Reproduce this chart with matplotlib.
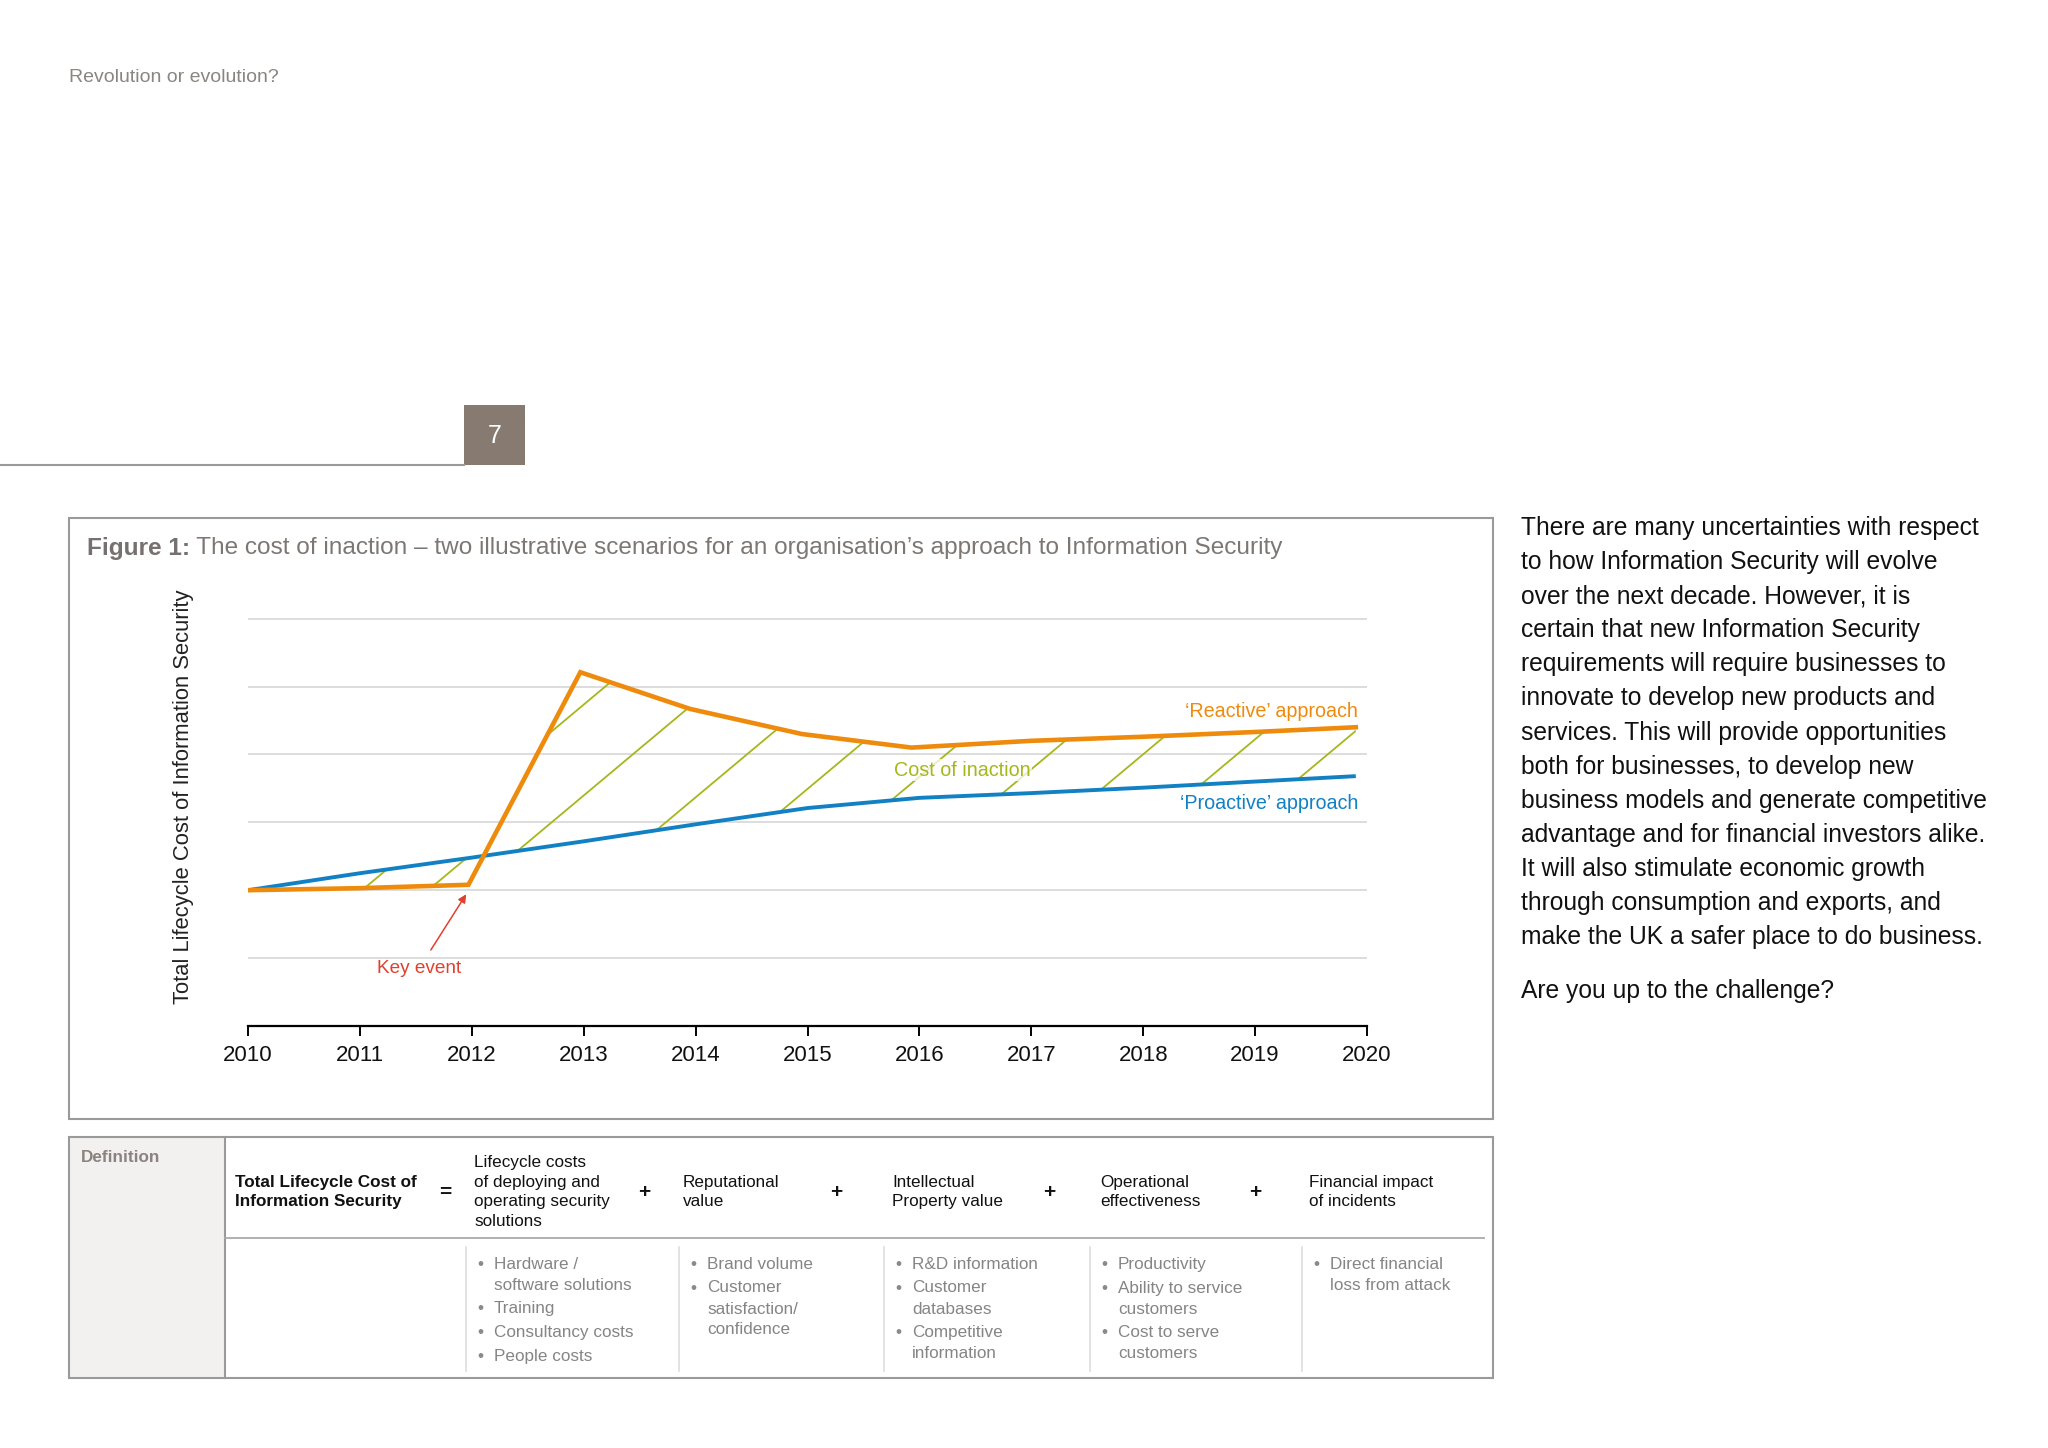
import numpy as np
import matplotlib
matplotlib.use("Agg")
import matplotlib.pyplot as plt
from matplotlib.patches import Rectangle

plt.rcParams['font.family'] = ['Liberation Sans', 'DejaVu Sans']

# --- data ---
years = [2010, 2011, 2012, 2013, 2014, 2015, 2016, 2017, 2018, 2019, 2020]
tick_labels = [str(y) for y in years]

proactive_x = [2010, 2011, 2012, 2013, 2014, 2015, 2016, 2017, 2018, 2019, 2019.9]
proactive_y = [2.0, 2.25, 2.48, 2.72, 2.97, 3.21, 3.36, 3.43, 3.51, 3.60, 3.68]

reactive_x = [2010, 2011, 2011.97, 2012.97, 2013.95, 2014.95, 2015.93, 2017, 2018, 2019, 2019.9]
reactive_y = [2.0, 2.03, 2.08, 5.21, 4.67, 4.30, 4.10, 4.20, 4.26, 4.33, 4.40]

# hatch lines: x where each diagonal would cross zero, and the last year it runs to
hatch_c = [2009.57, 2010.16, 2010.54, 2011.56, 2012.47, 2013.34, 2014.26, 2015.10, 2015.94, 2016.75]
hatch_end = [2020, 2012.1, 2020, 2020, 2020, 2020, 2020, 2020, 2020, 2020]
hatch_slope = 1.38

ORANGE = '#EE8A0C'
BLUE = '#1281C4'
GREEN = '#A6B71C'
RED = '#E0412F'
GRAY_TXT = '#7d7773'

W, H = 2048, 1448
fig = plt.figure(figsize=(W / 100, H / 100), dpi=100)

# overlay in pixel coordinates for page layout
ov = fig.add_axes([0, 0, 1, 1])
ov.set_xlim(0, W)
ov.set_ylim(H, 0)
ov.axis('off')

ov.text(69, 78, 'Revolution or evolution?', fontsize=14, color='#8a8580', va='center')
ov.plot([0, 464], [465, 465], color='#9a9a9a', lw=1.5)
ov.add_patch(Rectangle((464, 405), 61, 60, facecolor='#877b71', edgecolor='none'))
ov.text(494.5, 436, '7', color='white', fontsize=18, ha='center', va='center')

# figure box
ov.add_patch(Rectangle((69, 518), 1424, 601, facecolor='none', edgecolor='#9a9a9a', lw=1.5))
t1 = ov.text(87, 548, 'Figure 1:', fontsize=17.6, fontweight='bold', color='#767070', va='center')
ov.annotate(' The cost of inaction \u2013 two illustrative scenarios for an organisation\u2019s approach to Information Security',
            xy=(1, 0.5), xycoords=t1, va='center', fontsize=17.6, color=GRAY_TXT)

ov.text(183, 797, 'Total Lifecycle Cost of Information Security', rotation=90,
        fontsize=15.8, color='#222222', ha='center', va='center')

# --- chart ---
ymax = 6.2
x0, x1 = 248, 1367
yb = 1026
ytop = yb - ymax * 67.9
ax = fig.add_axes([x0 / W, 1 - yb / H, (x1 - x0) / W, (yb - ytop) / H])
ax.set_xlim(2010, 2020)
ax.set_ylim(0, ymax)
for s in ['top', 'right', 'left']:
    ax.spines[s].set_visible(False)
ax.spines['bottom'].set_linewidth(1.6)
ax.set_yticks([])
ax.set_xticks(years)
ax.set_xticklabels(tick_labels, fontsize=16, color='#111111')
ax.tick_params(axis='x', length=7, width=1.4, pad=7)
for g in range(1, 7):
    ax.axhline(g, color='#dadada', lw=1.3, zorder=0)

# region between the two scenarios, used as clip path for the hatching
grid_x = np.union1d(proactive_x, reactive_x)
p_i = np.interp(grid_x, proactive_x, proactive_y)
r_i = np.interp(grid_x, reactive_x, reactive_y)
region = ax.fill_between(grid_x, p_i, r_i, facecolor='none', edgecolor='none')
clip = region.get_paths()[0]
for c, e in zip(hatch_c, hatch_end):
    hx = np.array([c, min(e, c + 6.0 / hatch_slope)])
    hl, = ax.plot(hx, hatch_slope * (hx - c), color=GREEN, lw=1.3, zorder=2)
    hl.set_clip_path(clip, ax.transData)

ax.plot(proactive_x, proactive_y, color=BLUE, lw=2.8, zorder=3, solid_capstyle='butt')
ax.plot(reactive_x, reactive_y, color=ORANGE, lw=3.3, zorder=4, solid_joinstyle='miter')

ax.text(2019.92, 4.63, '\u2018Reactive\u2019 approach', color=ORANGE, fontsize=14.2, ha='right', va='center')
ax.text(2019.92, 3.27, '\u2018Proactive\u2019 approach', color=BLUE, fontsize=14.2, ha='right', va='center')
ax.text(2016.38, 3.77, 'Cost of inaction', color=GREEN, fontsize=14.2, ha='center', va='center', zorder=5,
        bbox=dict(facecolor='white', edgecolor='none', alpha=0.75, pad=1))
ax.annotate('Key event', xy=(2011.95, 1.94), xytext=(2011.53, 0.85), color=RED, fontsize=13.7,
            ha='center', va='center',
            arrowprops=dict(arrowstyle='-|>', color=RED, lw=1.1, mutation_scale=12, shrinkA=6, shrinkB=0))

# --- right-hand text ---
para = [
    'There are many uncertainties with respect',
    'to how Information Security will evolve',
    'over the next decade. However, it is',
    'certain that new Information Security',
    'requirements will require businesses to',
    'innovate to develop new products and',
    'services. This will provide opportunities',
    'both for businesses, to develop new',
    'business models and generate competitive',
    'advantage and for financial investors alike.',
    'It will also stimulate economic growth',
    'through consumption and exports, and',
    'make the UK a safer place to do business.',
]
for i, line in enumerate(para):
    ov.text(1521, 528 + i * 34.1, line, fontsize=17.7, color='#111111', va='center')
ov.text(1521, 991, 'Are you up to the challenge?', fontsize=17.7, color='#111111', va='center')

# --- definition table ---
ov.add_patch(Rectangle((69, 1137), 156, 241, facecolor='#f3f1f0', edgecolor='none'))
ov.add_patch(Rectangle((69, 1137), 1424, 241, facecolor='none', edgecolor='#9a9a9a', lw=1.5))
ov.plot([225, 225], [1137, 1378], color='#9a9a9a', lw=1.5)
ov.plot([225, 1484], [1238, 1238], color='#aaaaaa', lw=1.3)
ov.text(81, 1158, 'Definition', fontsize=12.3, fontweight='bold', color='#8a8380', va='center')

hy = 1192
ov.text(235, hy, 'Total Lifecycle Cost of\nInformation Security', fontsize=12.3, fontweight='bold',
        color='#111111', va='center', linespacing=1.39)
header_items = [
    (474, 'Lifecycle costs\nof deploying and\noperating security\nsolutions'),
    (683, 'Reputational\nvalue'),
    (892, 'Intellectual\nProperty value'),
    (1100, 'Operational\neffectiveness'),
    (1309, 'Financial impact\nof incidents'),
]
for x, txt in header_items:
    ov.text(x, hy, txt, fontsize=12.3, color='#111111', va='center', linespacing=1.39)
ov.text(445, hy, '=', fontsize=15, fontweight='bold', color='#111111', ha='center', va='center')
for x in [644, 836, 1049, 1255]:
    ov.text(x, hy, '+', fontsize=15, fontweight='bold', color='#111111', ha='center', va='center')

col_lines = [466, 679, 884, 1090, 1302]
bullets = [
    [['Hardware /', 'software solutions'], ['Training'], ['Consultancy costs'], ['People costs']],
    [['Brand volume'], ['Customer', 'satisfaction/', 'confidence']],
    [['R&D information'], ['Customer', 'databases'], ['Competitive', 'information']],
    [['Productivity'], ['Ability to service', 'customers'], ['Cost to serve', 'customers']],
    [['Direct financial', 'loss from attack']],
]
for cx, items in zip(col_lines, bullets):
    ov.plot([cx, cx], [1247, 1371], color='#dddddd', lw=1.2)
    y = 1264.5
    for item in items:
        ov.text(cx + 11, y, '\u2022', fontsize=12.5, color='#8a8a8a', va='center')
        for ln in item:
            ov.text(cx + 28, y, ln, fontsize=12.3, color='#858585', va='center')
            y += 21
        y += 2.5

fig.savefig('out.png', dpi=100, facecolor='white')
